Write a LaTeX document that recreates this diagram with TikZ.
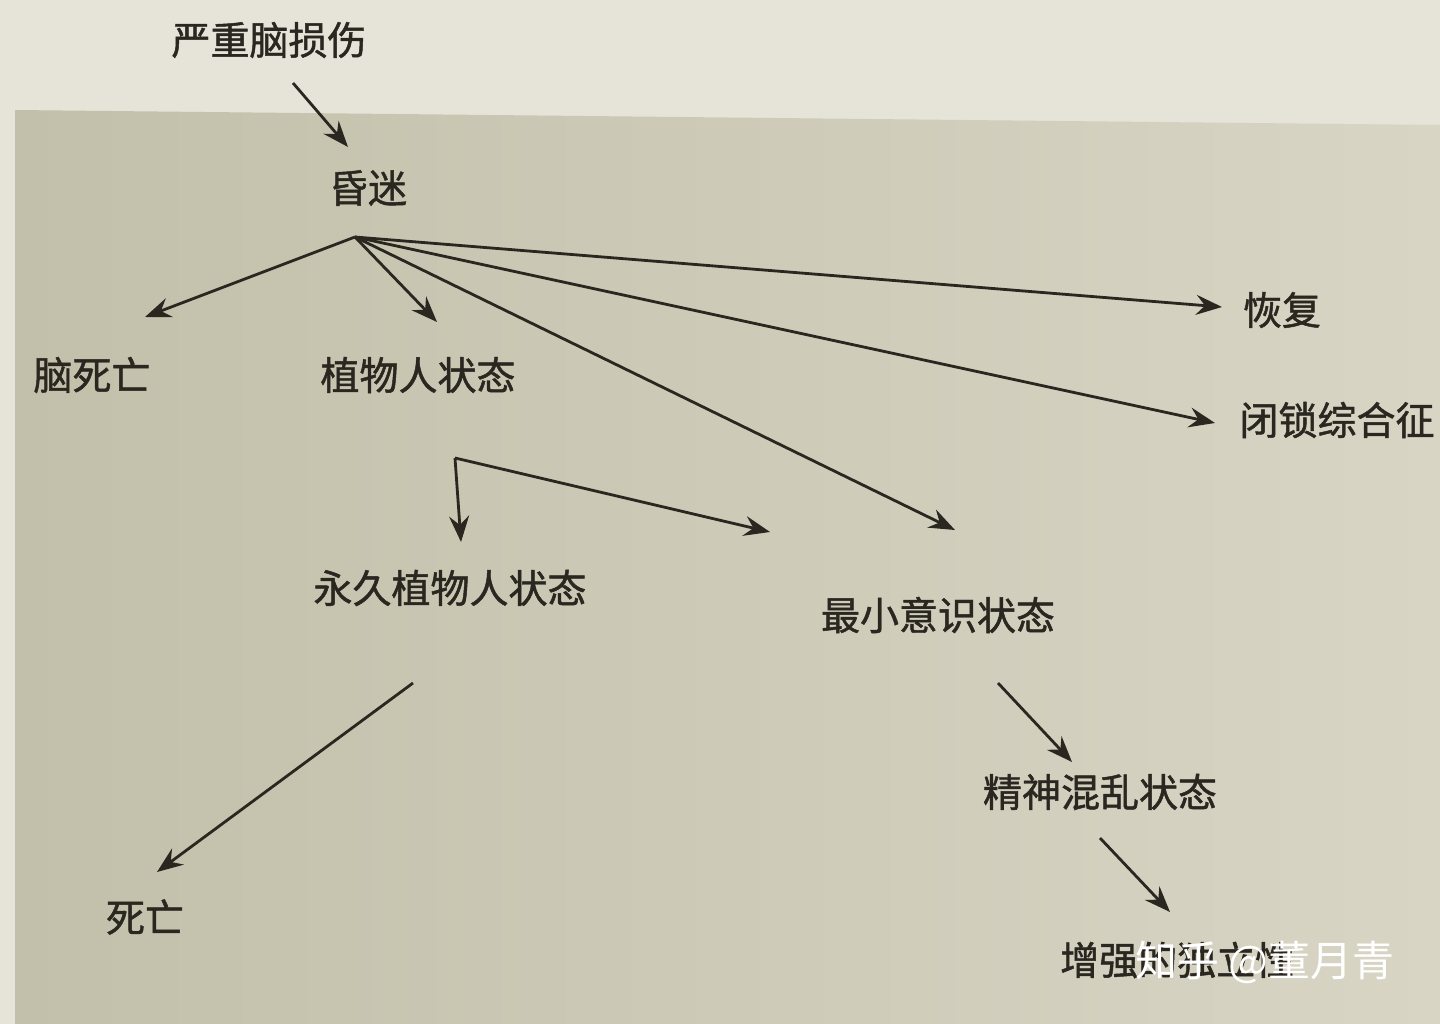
\documentclass[tikz,border=0pt]{standalone}
\usepackage{fontspec}
\newfontfamily\cjk[FakeBold=1.2]{Noto Sans CJK SC}
\newfontfamily\cjkwm{Noto Sans CJK SC}
\usetikzlibrary{arrows.meta}
\definecolor{paper}{HTML}{E6E4D8}
\definecolor{boxL}{HTML}{C2BFAA}
\definecolor{boxR}{HTML}{D8D5C5}
\definecolor{ink}{HTML}{2A2620}
\tikzset{
  lbl/.style={font=\cjk\fontsize{39}{41}\selectfont, text=ink, inner sep=0pt},
  arr/.style={draw=ink, line width=2.8pt, -{Stealth[length=26pt,width=20pt,inset=9pt]}},
  wm/.style={font=\cjkwm\fontsize{42}{44}\selectfont, text=white, inner sep=0pt}
}
\begin{document}
\begin{tikzpicture}[x=1pt,y=-1pt]
\useasboundingbox (0,0) rectangle (1440,1024);
\fill[paper] (0,0) rectangle (1440,1024);
\shade[left color=boxL, right color=boxR] (15,110) -- (1440,125) -- (1440,1024) -- (15,1024) -- cycle;
% nodes
\node[lbl] (injury) at (269,40) {严重脑损伤};
\node[lbl] (coma) at (368,188) {昏迷};
\node[lbl] (bd) at (92,375) {脑死亡};
\node[lbl] (vs) at (418,375) {植物人状态};
\node[lbl] (rec) at (1282,310) {恢复};
\node[lbl] (lis) at (1337,420) {闭锁综合征};
\node[lbl] (pvs) at (450,588) {永久植物人状态};
\node[lbl] (mcs) at (938,615) {最小意识状态};
\node[lbl] (death) at (145,917) {死亡};
\node[lbl] (conf) at (1100,792) {精神混乱状态};
\node[lbl, anchor=west] (indep) at (1060,960) {增强的独立性};
\node[wm, anchor=west] (mark) at (1135,962) {知乎 @董月青};
% coordinates
\coordinate (s0) at (293,83);
\coordinate (t0) at (348,147);
\coordinate (hub) at (355,237);
\coordinate (tbd) at (145,317);
\coordinate (tvs) at (437,322);
\coordinate (tmcs) at (955,530);
\coordinate (trec) at (1222,307);
\coordinate (tlis) at (1215,423);
\coordinate (corner) at (455,458);
\coordinate (tpvs) at (461,542);
\coordinate (tmid) at (770,532);
\coordinate (s1) at (413,683);
\coordinate (tdeath) at (157,872);
\coordinate (s2) at (998,683);
\coordinate (tconf) at (1072,762);
\coordinate (s3) at (1100,838);
\coordinate (tind) at (1170,912);
% connectors
\draw[arr] (s0) -- (t0);
\draw[arr] (hub) -- (tbd);
\draw[arr] (hub) -- (tvs);
\draw[arr] (hub) -- (tmcs);
\draw[arr] (hub) -- (trec);
\draw[arr] (hub) -- (tlis);
\draw[arr] (corner) -- (tpvs);
\draw[arr] (corner) -- (tmid);
\draw[arr] (s1) -- (tdeath);
\draw[arr] (s2) -- (tconf);
\draw[arr] (s3) -- (tind);
\end{tikzpicture}
\end{document}
